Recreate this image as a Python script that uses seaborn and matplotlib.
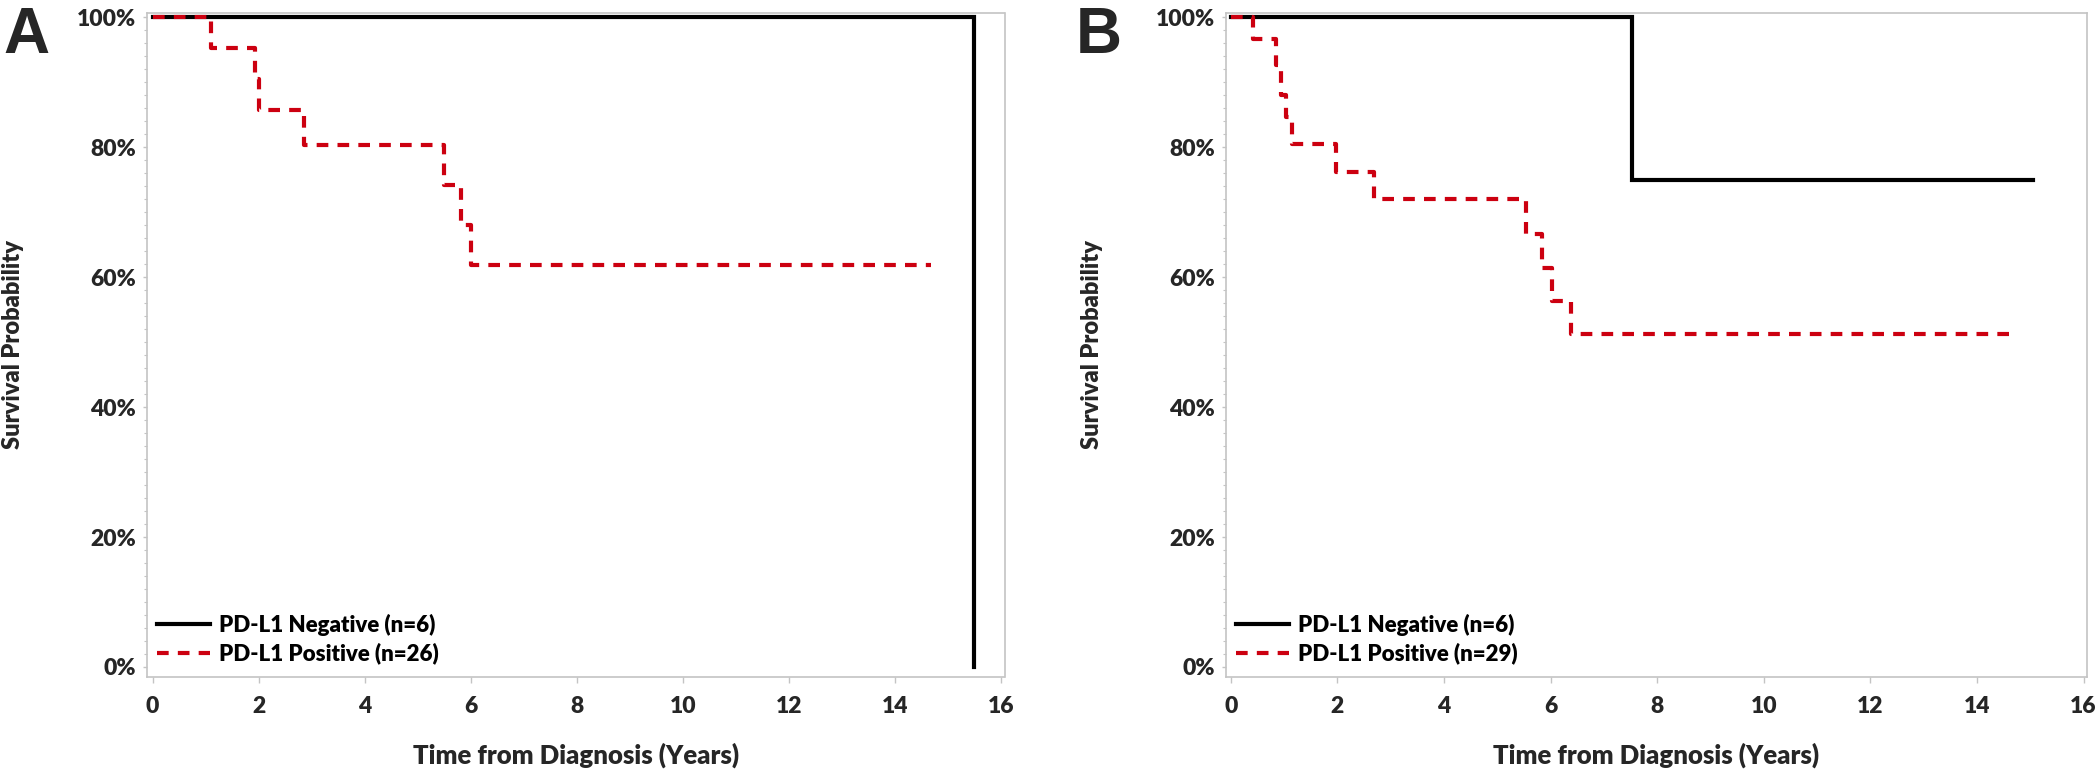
import numpy as np
import pandas as pd
import matplotlib
matplotlib.use("Agg")
import matplotlib.pyplot as plt
import seaborn as sns
from matplotlib.ticker import MultipleLocator, PercentFormatter

# ---------------- data ----------------
# Panel A
a_neg_time = [0.0, 15.49]
a_neg_surv = [1.0, 0.0]
a_pos_time = [0.0, 1.10, 1.94, 2.00, 2.86, 5.50, 5.81, 6.00, 14.67]
a_pos_surv = [1.0, 0.952, 0.905, 0.857, 0.804, 0.742, 0.680, 0.618, 0.618]
a_labels = ["PD-L1 Negative (n=6)", "PD-L1 Positive (n=26)"]

# Panel B
b_neg_time = [0.0, 7.53, 15.06]
b_neg_surv = [1.0, 0.75, 0.75]
b_pos_time = [0.0, 0.42, 0.84, 0.94, 1.03, 1.14, 1.97, 2.69, 5.53, 5.83, 6.02, 6.39, 14.68]
b_pos_surv = [1.0, 0.966, 0.926, 0.880, 0.846, 0.805, 0.762, 0.720, 0.667, 0.614, 0.563, 0.513, 0.513]
b_labels = ["PD-L1 Negative (n=6)", "PD-L1 Positive (n=29)"]

x_ticks = [0, 2, 4, 6, 8, 10, 12, 14, 16]
panel_letters = ["A", "B"]
x_title = "Time from Diagnosis (Years)"
y_title = "Survival Probability"

# ---------------- style ----------------
sns.set_theme(style="white")
plt.rcParams["font.family"] = ["Lato", "DejaVu Sans"]
W = "heavy"
plt.rcParams["font.weight"] = W

RED = "#CC0010"
GRAY = "#C4C4C4"

fig = plt.figure(figsize=(21, 7.79), dpi=100)
axA = fig.add_axes([147.3 / 2100, 1 - 677 / 779, (1004.5 - 147.3) / 2100, (677 - 12.7) / 779])
axB = fig.add_axes([1226.2 / 2100, 1 - 677 / 779, (2086.8 - 1226.2) / 2100, (677 - 12.7) / 779])


def make_df(neg_t, neg_s, pos_t, pos_s, labels):
    return pd.DataFrame({
        "time": list(neg_t) + list(pos_t),
        "surv": list(neg_s) + list(pos_s),
        "group": [labels[0]] * len(neg_t) + [labels[1]] * len(pos_t),
    })


def draw(ax, df, labels, xlim, ylabel_x):
    sns.lineplot(data=df, x="time", y="surv", hue="group", style="group",
                 hue_order=labels, style_order=labels,
                 palette={labels[0]: "black", labels[1]: RED},
                 dashes={labels[0]: "", labels[1]: (2.8, 2.2)},
                 estimator=None, sort=False, drawstyle="steps-post",
                 linewidth=3.0, legend=False, ax=ax)
    for ln in ax.get_lines():
        ln.set_dash_capstyle("butt")
        ln.set_solid_capstyle("projecting")
        ln.set_solid_joinstyle("miter")

    ax.set_xlim(*xlim)
    ax.set_ylim(-0.0154, 1.007)
    ax.set_xticks(x_ticks)
    ax.yaxis.set_major_locator(MultipleLocator(0.2))
    ax.yaxis.set_minor_locator(MultipleLocator(0.02))
    ax.yaxis.set_major_formatter(PercentFormatter(1.0, decimals=0))

    for sp in ax.spines.values():
        sp.set_visible(True)
        sp.set_color(GRAY)
        sp.set_linewidth(1.2)

    ax.tick_params(axis="x", which="major", bottom=True, length=4.5, width=1.0,
                   color=GRAY, pad=9, labelsize=16.5)
    ax.tick_params(axis="y", which="major", left=True, length=3, width=1.0,
                   color=GRAY, pad=5, labelsize=16.5)
    ax.tick_params(axis="y", which="minor", left=True, length=2.5, width=0.8,
                   color=GRAY)
    for lab in ax.get_xticklabels() + ax.get_yticklabels():
        lab.set_fontweight(W)

    ax.set_xlabel(x_title, fontsize=18.5, fontweight=W)
    ax.set_ylabel(y_title, fontsize=17, fontweight=W)
    ax.xaxis.set_label_coords(0.5, -0.099)
    ax.yaxis.set_label_coords(ylabel_x, 0.5)

    leg = ax.legend(ax.get_lines()[:2], labels, loc="lower left",
                    bbox_to_anchor=(0.011, 0.019), frameon=False,
                    prop={"size": 16, "weight": W},
                    handlelength=2.4, handletextpad=0.42,
                    borderaxespad=0, borderpad=0, labelspacing=0.3)
    for t in leg.get_texts():
        t.set_color("black")


draw(axA, make_df(a_neg_time, a_neg_surv, a_pos_time, a_pos_surv, a_labels),
     a_labels, (-0.10, 16.064), -0.144)
draw(axB, make_df(b_neg_time, b_neg_surv, b_pos_time, b_pos_surv, b_labels),
     b_labels, (-0.086, 16.06), -0.143)

fig.text(3 / 2100, 1 - 6 / 779, panel_letters[0], fontsize=46, fontweight="bold",
         family=["Liberation Sans", "DejaVu Sans"], ha="left", va="top")
fig.text(1076 / 2100, 1 - 6 / 779, panel_letters[1], fontsize=46, fontweight="bold",
         family=["Liberation Sans", "DejaVu Sans"], ha="left", va="top")

fig.savefig("out.png", dpi=100, facecolor="white")
